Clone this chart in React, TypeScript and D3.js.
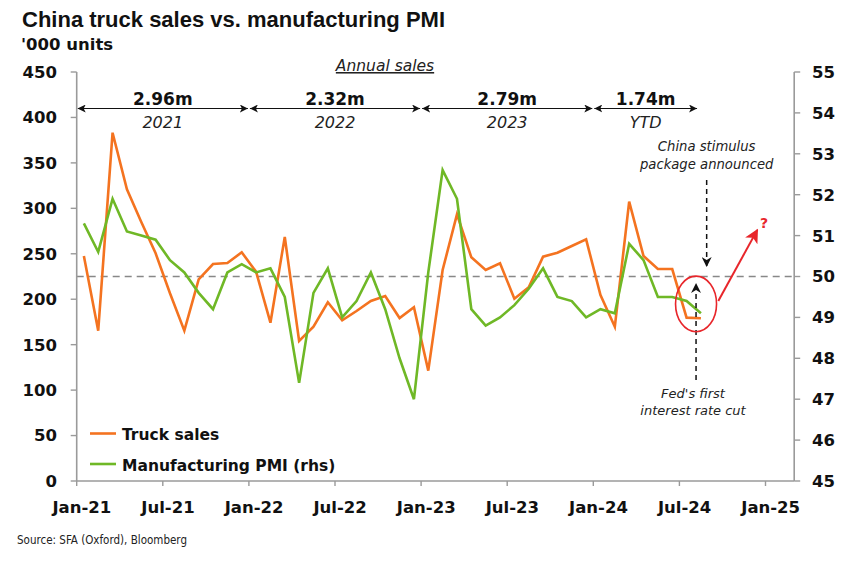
import React from "react";
import * as d3 from "d3";

// Monthly data Jan-21 .. Aug-24
const truckSales = [
  247.6, 165.4, 383.2, 320.9, 285, 250.5, 206.5, 165.4, 221.9, 238.7, 239.8, 251.6,
  230.3, 174.2, 268.5, 154, 169.8, 196.6, 176.8, 187, 198, 203.5, 179.3, 191.1,
  121.4, 232.1, 293.4, 246.1, 232.1, 239.5, 200.6, 213.1, 246.8, 251.2, 258.5, 265.9,
  204.6, 169.8, 307.3, 247.5, 233.2, 233.2, 179.7, 179,
];
const pmi = [
  51.3, 50.6, 51.9, 51.1, 51.0, 50.9, 50.4, 50.1, 49.6, 49.2, 50.1, 50.3,
  50.1, 50.2, 49.5, 47.4, 49.6, 50.2, 49.0, 49.4, 50.1, 49.2, 48.0, 47.0,
  50.1, 52.6, 51.9, 49.2, 48.8, 49.0, 49.3, 49.7, 50.2, 49.5, 49.4, 49.0,
  49.2, 49.1, 50.8, 50.4, 49.5, 49.5, 49.4, 49.1,
];
const xTickLabels = ["Jan-21", "Jul-21", "Jan-22", "Jul-22", "Jan-23", "Jul-23", "Jan-24", "Jul-24", "Jan-25"];
const leftTicks = [0, 50, 100, 150, 200, 250, 300, 350, 400, 450];
const rightTicks = [45, 46, 47, 48, 49, 50, 51, 52, 53, 54, 55];
const annualTotals = ["2.96m", "2.32m", "2.79m", "1.74m"];
const annualLabels = ["2021", "2022", "2023", "YTD"];
const annualStart = [-0.5, 11.5, 23.5, 35.5];
const annualEnd = [11.5, 23.5, 35.5, 42.8];

const ORANGE = "#f47320";
const GREEN = "#6fb826";
const AXIS = "#9a9a9a";
const SANS = "'DejaVu Sans', Verdana, sans-serif";

export default function App() {
  const W = 865;
  const H = 565;
  const x = d3.scaleLinear().domain([-0.5, 49.5]).range([76.7, 794.2]);
  const yL = d3.scaleLinear().domain([0, 450]).range([481, 72]);
  const yR = d3.scaleLinear().domain([45, 55]).range([481, 72]);
  const lineL = d3.line<number>().x((_, i) => x(i)).y((d) => yL(d));
  const lineR = d3.line<number>().x((_, i) => x(i)).y((d) => yR(d));
  const x0 = x(-0.5);
  const x1 = x(49.5);
  const yBottom = yL(0);
  const yTop = yL(450);

  const stimX = x(43.4);
  const fedX = x(42.66);

  return (
    <svg width={W} height={H} style={{ position: "absolute", left: 0, top: 0, background: "#fff" }}>
      <defs>
        <marker id="blk" viewBox="0 0 10 10" refX="10" refY="5" markerWidth="8" markerHeight="8"
          markerUnits="userSpaceOnUse" orient="auto-start-reverse">
          <path d="M0,0 L10,5 L0,10 L2.5,5 z" fill="#111" />
        </marker>
        <marker id="blk2" viewBox="0 0 10 10" refX="10" refY="5" markerWidth="10" markerHeight="10"
          markerUnits="userSpaceOnUse" orient="auto-start-reverse">
          <path d="M0,0 L10,5 L0,10 L3,5 z" fill="#111" />
        </marker>
        <marker id="red" viewBox="0 0 10 10" refX="9" refY="5" markerWidth="14" markerHeight="14"
          markerUnits="userSpaceOnUse" orient="auto">
          <path d="M0,0 L10,5 L0,10 L2.5,5 z" fill="#e8262b" />
        </marker>
      </defs>

      {/* Title */}
      <text x={22} y={27} fontFamily="'Liberation Sans', Arial, sans-serif" fontWeight="bold" fontSize={22} fill="#111">
        China truck sales vs. manufacturing PMI
      </text>
      <text x={21} y={50} fontFamily={SANS} fontWeight="bold" fontSize={16.5} fill="#111">
        '000 units
      </text>

      {/* Annual sales header */}
      <text x={385} y={71} fontFamily={SANS} fontStyle="italic" fontSize={15.5} textAnchor="middle" fill="#222"
        textDecoration="underline">
        Annual sales
      </text>

      {annualTotals.map((t, i) => {
        const a = x(annualStart[i]);
        const b = x(annualEnd[i]);
        const c = (a + b) / 2;
        return (
          <g key={t}>
            <line x1={a + 1} x2={b - 1} y1={108.5} y2={108.5} stroke="#111" strokeWidth={1.1}
              markerStart="url(#blk)" markerEnd="url(#blk)" />
            <text x={c} y={105} textAnchor="middle" fontFamily={SANS} fontWeight="bold" fontSize={17} fill="#111">
              {t}
            </text>
            <text x={c} y={128} textAnchor="middle" fontFamily={SANS} fontStyle="italic" fontSize={16} fill="#222">
              {annualLabels[i]}
            </text>
          </g>
        );
      })}

      {/* 50 reference line */}
      <line x1={x0} x2={x1} y1={yR(50)} y2={yR(50)} stroke="#888" strokeWidth={1.6} strokeDasharray="7,5" />

      {/* Axes */}
      <line x1={x0} x2={x0} y1={yTop} y2={yBottom} stroke={AXIS} strokeWidth={1.6} />
      <line x1={x1} x2={x1} y1={yTop} y2={yBottom} stroke={AXIS} strokeWidth={1.6} />
      <line x1={x0} x2={x1} y1={yBottom} y2={yBottom} stroke={AXIS} strokeWidth={1.6} />
      {leftTicks.map((t) => (
        <g key={"l" + t}>
          <line x1={x0 - 6} x2={x0} y1={yL(t)} y2={yL(t)} stroke={AXIS} strokeWidth={1.4} />
          <text x={57} y={yL(t)} dy="0.36em" textAnchor="end" fontFamily={SANS} fontWeight="bold" fontSize={16.5} fill="#111">
            {t}
          </text>
        </g>
      ))}
      {rightTicks.map((t) => (
        <g key={"r" + t}>
          <line x1={x1} x2={x1 + 6} y1={yR(t)} y2={yR(t)} stroke={AXIS} strokeWidth={1.4} />
          <text x={812} y={yR(t)} dy="0.36em" textAnchor="start" fontFamily={SANS} fontWeight="bold" fontSize={16.5} fill="#111">
            {t}
          </text>
        </g>
      ))}
      {xTickLabels.map((t, i) => (
        <g key={t}>
          <line x1={x(i * 6 - 0.5)} x2={x(i * 6 - 0.5)} y1={yBottom} y2={yBottom + 5} stroke={AXIS} strokeWidth={1.4} />
          <text x={x(i * 6) - 2} y={513} textAnchor="middle" fontFamily={SANS} fontWeight="bold" fontSize={16.5} fill="#111">
            {t}
          </text>
        </g>
      ))}

      {/* Series */}
      <path d={lineL(truckSales) || ""} fill="none" stroke={ORANGE} strokeWidth={2.6} strokeLinejoin="miter" />
      <path d={lineR(pmi) || ""} fill="none" stroke={GREEN} strokeWidth={2.6} strokeLinejoin="miter" />

      {/* Legend */}
      <line x1={90} x2={116} y1={433.5} y2={433.5} stroke={ORANGE} strokeWidth={2.6} />
      <text x={122} y={440} fontFamily={SANS} fontWeight="bold" fontSize={15.5} fill="#111">Truck sales</text>
      <line x1={90} x2={116} y1={464} y2={464} stroke={GREEN} strokeWidth={2.6} />
      <text x={122} y={470.5} fontFamily={SANS} fontWeight="bold" fontSize={15.5} fill="#111">Manufacturing PMI (rhs)</text>

      {/* Annotations */}
      <text x={stimX} y={151} textAnchor="middle" fontFamily={SANS} fontStyle="italic" fontSize={13.2} fill="#222">China stimulus</text>
      <text x={stimX} y={169} textAnchor="middle" fontFamily={SANS} fontStyle="italic" fontSize={13.2} fill="#222">package announced</text>
      <line x1={stimX} x2={stimX} y1={180} y2={267} stroke="#111" strokeWidth={1.5} strokeDasharray="5,4" markerEnd="url(#blk2)" />

      <line x1={fedX} x2={fedX} y1={380} y2={283} stroke="#111" strokeWidth={1.5} strokeDasharray="5,4" markerEnd="url(#blk2)" />
      <text x={x(42.45)} y={398} textAnchor="middle" fontFamily={SANS} fontStyle="italic" fontSize={13} fill="#222">Fed's first</text>
      <text x={x(42.45)} y={415} textAnchor="middle" fontFamily={SANS} fontStyle="italic" fontSize={13} fill="#222">interest rate cut</text>

      <ellipse cx={fedX} cy={yR(49.33)} rx={20.5} ry={27.8} fill="none" stroke="#e8262b" strokeWidth={1.6} />
      <line x1={x(44.21)} y1={yR(49.4)} x2={x(46.93)} y2={yR(51.14)} stroke="#e8262b" strokeWidth={2} markerEnd="url(#red)" />
      <text x={x(47.4)} y={228} textAnchor="middle" fontFamily={SANS} fontWeight="bold" fontSize={14} fill="#e8262b">?</text>

      {/* Source */}
      <text x={17} y={544} fontFamily="'DejaVu Sans Condensed', 'Liberation Sans Narrow', sans-serif" fontSize={12}
        textLength={170} lengthAdjust="spacingAndGlyphs" fill="#222">
        Source: SFA (Oxford), Bloomberg
      </text>
    </svg>
  );
}
